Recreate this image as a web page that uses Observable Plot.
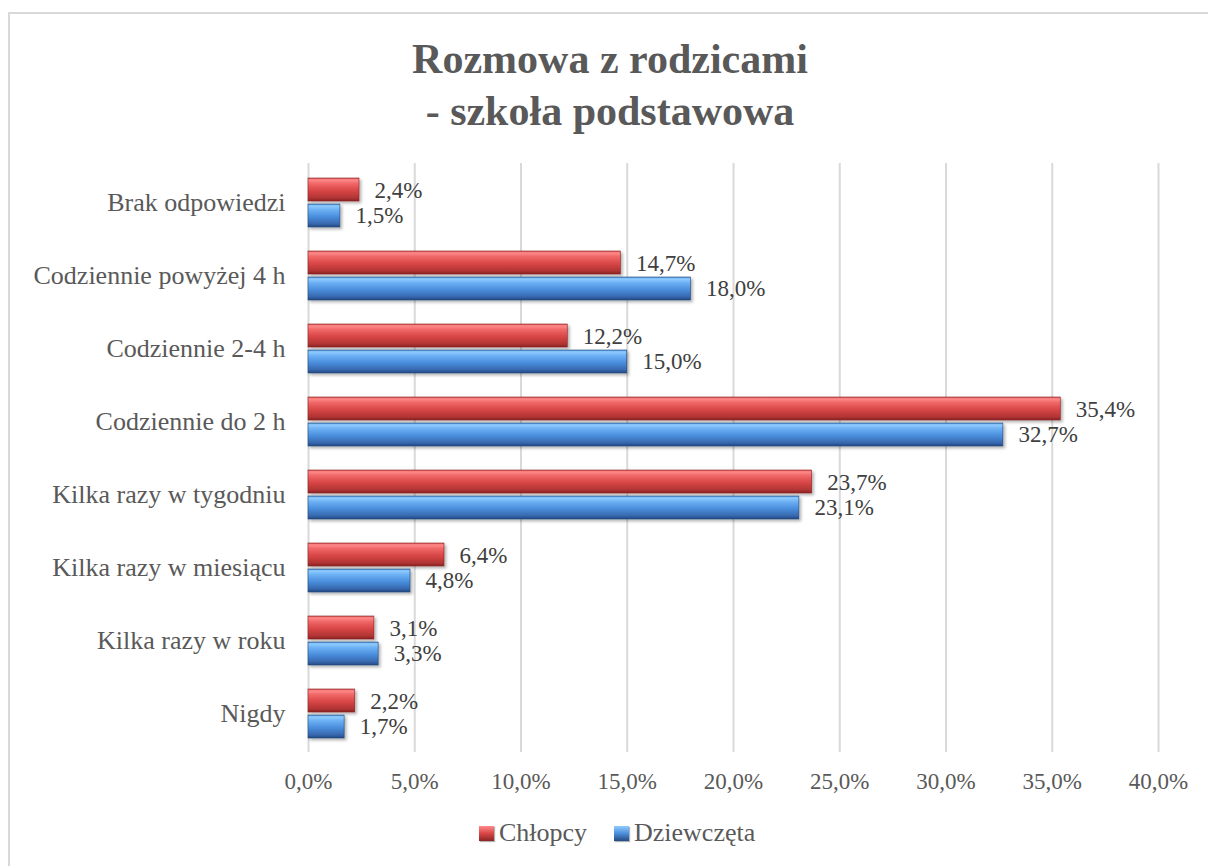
<!DOCTYPE html>
<html>
<head>
<meta charset="utf-8">
<script src="https://cdn.jsdelivr.net/npm/d3@7"></script>
<script src="https://cdn.jsdelivr.net/npm/@observablehq/plot@0.6"></script>
<style>
  html, body { margin: 0; padding: 0; background: #fff; width: 1208px; height: 866px; overflow: hidden; }
  #frame { position: absolute; left: 8px; top: 12px; width: 1300px; height: 1000px; border: 2px solid #d9d9d9; box-sizing: border-box; }
  #title { position: absolute; left: 0; top: 33px; width: 1220px; text-align: center; font-family: "Liberation Serif", "Times New Roman", serif; font-weight: bold; font-size: 42px; line-height: 52px; color: #595959; }
  #chart { position: absolute; left: 0; top: 140px; }
  #legend { position: absolute; top: 814px; left: 0; width: 1208px; font-family: "Liberation Serif", "Times New Roman", serif; font-size: 26px; color: #595959; }
  .item { position: absolute; display: flex; align-items: center; height: 38px; }
  .sw { width: 15px; height: 15px; margin-right: 5px; box-shadow: 1px 1px 1px rgba(0,0,0,0.3); }
</style>
</head>
<body>
<div id="frame"></div>
<div id="title">Rozmowa z rodzicami<br>- szkoła podstawowa</div>
<div id="chart"></div>
<div id="legend"></div>
<script>
const categories = ["Brak odpowiedzi", "Codziennie powyżej 4 h", "Codziennie 2-4 h", "Codziennie do 2 h", "Kilka razy w tygodniu", "Kilka razy w miesiącu", "Kilka razy w roku", "Nigdy"];
const series = ["Chłopcy", "Dziewczęta"];
const chlopcy = [2.4, 14.7, 12.2, 35.4, 23.7, 6.4, 3.1, 2.2];
const dziewczeta = [1.5, 18.0, 15.0, 32.7, 23.1, 4.8, 3.3, 1.7];
const xTicks = [0, 5, 10, 15, 20, 25, 30, 35, 40];

const fmt = v => v.toFixed(1).replace(".", ",") + "%";
const boys = categories.map((c, i) => ({category: c, value: chlopcy[i], series: series[0]}));
const girls = categories.map((c, i) => ({category: c, value: dziewczeta[i], series: series[1]}));

const plot = Plot.plot({
  width: 1208,
  height: 660,
  marginLeft: 308,
  marginRight: 50,
  marginTop: 23,
  marginBottom: 48,
  style: {fontFamily: "'Liberation Serif', 'Times New Roman', serif", background: "transparent", overflow: "visible"},
  x: {domain: [0, 40], ticks: xTicks, tickFormat: fmt, tickSize: 0, tickPadding: 20, label: null},
  y: {domain: categories, paddingInner: 0.334, paddingOuter: 0.167, tickSize: 0, tickPadding: 23, label: null},
  marks: [
    Plot.ruleX(xTicks, {stroke: "#d9d9d9", strokeWidth: 2}),
    Plot.barX(boys, {x: "value", y: "category", fill: "url(#gradRed)", insetBottom: 26, stroke: "#8a2222", strokeWidth: 0.6}),
    Plot.barX(girls, {x: "value", y: "category", fill: "url(#gradBlue)", insetTop: 26, stroke: "#22467a", strokeWidth: 0.6}),
    Plot.text(boys, {x: "value", y: "category", text: d => fmt(d.value), dy: -12.5, dx: 15, textAnchor: "start", fontSize: 23, fill: "#404040"}),
    Plot.text(girls, {x: "value", y: "category", text: d => fmt(d.value), dy: 13, dx: 15, textAnchor: "start", fontSize: 23, fill: "#404040"}),
    Plot.axisY({tickSize: 0, tickPadding: 23, fontSize: 26, color: "#595959", label: null}),
    Plot.axisX({ticks: xTicks, tickFormat: fmt, tickSize: 0, tickPadding: 20, fontSize: 23, color: "#595959", label: null})
  ]
});

const svg = d3.select(plot);
const defs = svg.insert("defs", ":first-child");
function grad(id, stops) {
  const g = defs.append("linearGradient").attr("id", id).attr("x1", 0).attr("y1", 0).attr("x2", 0).attr("y2", 1);
  stops.forEach(([o, c]) => g.append("stop").attr("offset", o).attr("stop-color", c));
}
grad("gradRed", [["0%", "#d55050"], ["8%", "#ff8a8a"], ["25%", "#f06666"], ["55%", "#d84646"], ["85%", "#b33434"], ["100%", "#8c2424"]]);
grad("gradBlue", [["0%", "#4c90d8"], ["8%", "#90ccff"], ["25%", "#6cb0f4"], ["55%", "#4a8edc"], ["85%", "#3769b0"], ["100%", "#244a82"]]);
const f = defs.append("filter").attr("id", "shadow").attr("x", "-5%").attr("y", "-20%").attr("width", "110%").attr("height", "160%");
f.append("feDropShadow").attr("dx", 2).attr("dy", 2).attr("stdDeviation", 1.5).attr("flood-color", "#000").attr("flood-opacity", 0.3);
svg.selectAll("g[aria-label='bar']").attr("filter", "url(#shadow)");

document.getElementById("chart").appendChild(plot);

// legend
const legend = document.getElementById("legend");
const grads = {"Chłopcy": "linear-gradient(#ff8a8a 0%, #d84646 50%, #8c2424 100%)", "Dziewczęta": "linear-gradient(#90ccff 0%, #4a8edc 50%, #244a82 100%)"};
const lefts = [479, 614];
series.forEach((s, i) => {
  const it = document.createElement("div");
  it.className = "item";
  it.style.left = lefts[i] + "px";
  const sw = document.createElement("div");
  sw.className = "sw";
  sw.style.background = grads[s];
  const t = document.createElement("span");
  t.textContent = s;
  it.appendChild(sw);
  it.appendChild(t);
  legend.appendChild(it);
});
</script>
</body>
</html>
